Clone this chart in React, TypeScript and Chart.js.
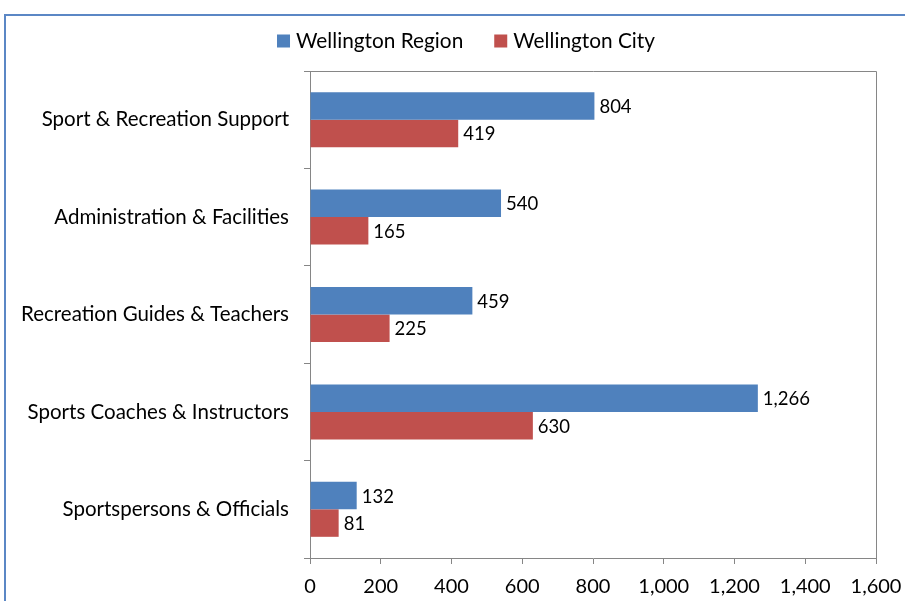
import React, { useEffect, useRef } from "react";
import { Chart, registerables } from "chart.js";

Chart.register(...registerables);

const categories = [
  "Sport & Recreation Support",
  "Administration & Facilities",
  "Recreation Guides & Teachers",
  "Sports Coaches & Instructors",
  "Sportspersons & Officials",
];
const regionValues = [804, 540, 459, 1266, 132];
const cityValues = [419, 165, 225, 630, 81];
const seriesNames = ["Wellington Region", "Wellington City"];
const seriesColors = ["#4F81BD", "#C0504D"];

const FONT = "Lato, 'Liberation Sans', sans-serif";

const framePlugin = {
  id: "frame",
  beforeDraw(chart: any) {
    const ctx = chart.ctx;
    ctx.save();
    ctx.strokeStyle = "#5B87C5";
    ctx.lineWidth = 2;
    ctx.beginPath();
    ctx.moveTo(5, chart.height);
    ctx.lineTo(5, 15);
    ctx.lineTo(chart.width, 15);
    ctx.stroke();
    ctx.restore();
  },
  afterDraw(chart: any) {
    const ctx = chart.ctx;
    const a = chart.chartArea;
    ctx.save();
    ctx.strokeStyle = "#868686";
    ctx.lineWidth = 1;
    ctx.beginPath();
    ctx.moveTo(a.left, a.top + 0.5);
    ctx.lineTo(a.right + 0.5, a.top + 0.5);
    ctx.lineTo(a.right + 0.5, a.bottom);
    ctx.stroke();

    // value labels
    ctx.fillStyle = "#000";
    ctx.font = "18.5px " + FONT;
    ctx.textAlign = "left";
    ctx.textBaseline = "middle";
    chart.data.datasets.forEach((ds: any, di: number) => {
      const meta = chart.getDatasetMeta(di);
      meta.data.forEach((bar: any, i: number) => {
        const v = ds.data[i];
        ctx.fillText(v.toLocaleString("en-US"), bar.x + 5, bar.y + 1);
      });
    });

    // legend
    ctx.font = "20.8px " + FONT;
    const box = 13;
    const gap = 6;
    const spacing = 31;
    const widths = seriesNames.map((n) => ctx.measureText(n).width);
    const total = widths.reduce((s, w) => s + box + gap + w, 0) + spacing * (seriesNames.length - 1);
    let x = 466 - total / 2;
    const cy = 41;
    seriesNames.forEach((n, i) => {
      ctx.fillStyle = seriesColors[i];
      ctx.fillRect(x, cy - 6.5, box, box);
      ctx.fillStyle = "#000";
      ctx.fillText(n, x + box + gap, cy);
      x += box + gap + widths[i] + spacing;
    });
    ctx.restore();
  },
};

export default function App() {
  const ref = useRef<HTMLCanvasElement | null>(null);
  useEffect(() => {
    if (!ref.current) return;
    const chart = new Chart(ref.current, {
      type: "bar",
      data: {
        labels: categories,
        datasets: [
          { label: seriesNames[0], data: regionValues, backgroundColor: seriesColors[0] },
          { label: seriesNames[1], data: cityValues, backgroundColor: seriesColors[1] },
        ],
      },
      options: {
        indexAxis: "y",
        animation: false,
        responsive: false,
        maintainAspectRatio: false,
        layout: { padding: { top: 71, left: 10, right: 29, bottom: 0 } },
        datasets: { bar: { categoryPercentage: 0.565, barPercentage: 1 } },
        plugins: { legend: { display: false }, tooltip: { enabled: false } },
        scales: {
          x: {
            min: 0,
            max: 1600,
            ticks: {
              stepSize: 200,
              color: "#000",
              font: { family: FONT, size: 20 },
              padding: 11,
              maxRotation: 0,
              callback: (v: any) => Number(v).toLocaleString("en-US"),
            },
            grid: { drawOnChartArea: false, drawTicks: true, tickLength: 6, color: "#868686" },
            border: { color: "#868686" },
            afterFit: (s: any) => {
              s.height = 43;
              s.paddingLeft = 0;
              s.paddingRight = 0;
            },
          },
          y: {
            ticks: { color: "#000", font: { family: FONT, size: 20.5 }, padding: 15 },
            grid: { drawOnChartArea: false, drawTicks: true, tickLength: 6, color: "#868686", offset: true },
            border: { color: "#868686" },
            afterFit: (s: any) => {
              s.width = 300;
              s.paddingTop = 0;
              s.paddingBottom = 0;
            },
          },
        },
      },
      plugins: [framePlugin],
    });
    return () => chart.destroy();
  }, []);
  return (
    <div style={{ position: "fixed", left: 0, top: 0, width: 905, height: 601, background: "#fff" }}>
      <canvas ref={ref} width={905} height={601} style={{ width: 905, height: 601 }} />
    </div>
  );
}
